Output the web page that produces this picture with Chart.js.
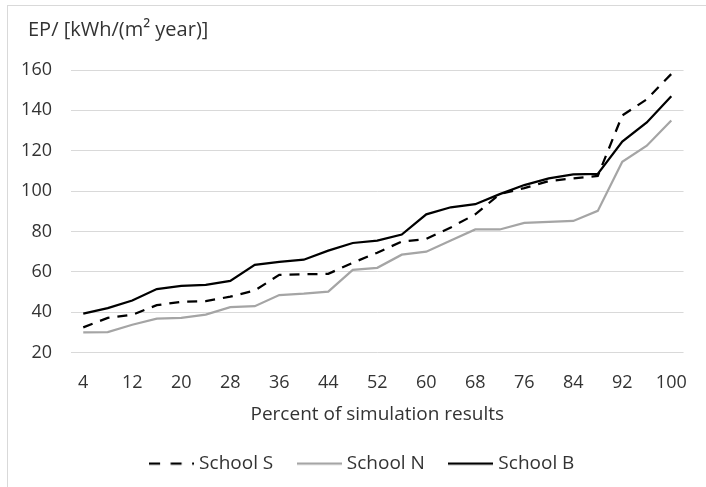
<!DOCTYPE html>
<html>
<head>
<meta charset="utf-8">
<script src="https://cdn.jsdelivr.net/npm/chart.js@4/dist/chart.umd.min.js"></script>
<style>
  html, body { margin: 0; padding: 0; background: #fff; overflow: hidden; }
  #wrap { position: relative; width: 706px; height: 487px; }
  #frame { position: absolute; left: 7px; top: 5px; width: 800px; height: 600px;
           border: 1px solid #d9d9d9; pointer-events: none; }
</style>
</head>
<body>
<div id="wrap">
  <canvas id="chart" width="706" height="487"></canvas>
  <div id="frame"></div>
</div>
<script>
// percent of simulation results (x categories)
const percents = ["4", "8", "12", "16", "20", "24", "28", "32", "36", "40", "44", "48", "52",
  "56", "60", "64", "68", "72", "76", "80", "84", "88", "92", "96", "100"];

// EP values, kWh/(m2 year)
const schoolS = [32.5, 37.2, 38.7, 43.5, 45.2, 45.5, 47.7, 50.8, 58.5, 58.8, 59, 64.5, 69.5,
  75, 76.3, 82, 88.5, 98.5, 101.5, 105, 106.3, 107.5, 137.5, 145.5, 158];
const schoolN = [30, 30.2, 33.8, 36.8, 37.2, 38.8, 42.5, 43, 48.5, 49.2, 50.2, 61, 62,
  68.5, 70, 75.5, 81, 81, 84.3, 84.7, 85.2, 90.2, 114.5, 122.5, 135];
const schoolB = [39.3, 42, 45.8, 51.5, 53, 53.5, 55.5, 63.5, 65, 66, 70.5, 74.3, 75.5,
  78.5, 88.5, 92, 93.5, 98.5, 103, 106.3, 108.3, 108.5, 124.5, 134, 147];

const yMin = 20, yMax = 160, yStep = 20;
const yCaption = "EP/ [kWh/(m² year)]";

const textColor = "#333333";
const tickFont = { family: "'Open Sans'", size: 18 };
const labelFont = { family: "'Open Sans'", size: 19 };

// small line samples for the legend (Excel-like, dash shown in the sample)
function legendSample(color, dash) {
  const c = document.createElement("canvas");
  c.width = 45;
  c.height = 6;
  const g = c.getContext("2d");
  g.strokeStyle = color;
  g.lineWidth = 2.25;
  g.setLineDash(dash);
  g.beginPath();
  g.moveTo(0, 3);
  g.lineTo(45, 3);
  g.stroke();
  return c;
}

// caption above the value axis, left aligned like in Excel
const captionPlugin = {
  id: "caption",
  afterLayout(chart) {
    // y tick labels are clipped to the scale box; let them use the left margin too
    chart.scales.y.left = 0;
  },
  afterDraw(chart) {
    const c = chart.ctx;
    c.save();
    c.font = "20px 'Open Sans'";
    c.fillStyle = textColor;
    c.textBaseline = "middle";
    c.textAlign = "left";
    c.fillText(yCaption, 28, 30);
    c.restore();
  },
};

const ctx = document.getElementById("chart").getContext("2d");

new Chart(ctx, {
  type: "line",
  data: {
    labels: percents,
    datasets: [
      {
        label: "School S",
        data: schoolS,
        borderColor: "#000000",
        backgroundColor: "#000000",
        borderWidth: 2.25,
        borderDash: [10, 8],
        pointRadius: 0,
        order: 3,
        sample: legendSample("#000000", [11, 10.5]),
      },
      {
        label: "School N",
        data: schoolN,
        borderColor: "#a5a5a5",
        backgroundColor: "#a5a5a5",
        borderWidth: 2.25,
        pointRadius: 0,
        order: 2,
        sample: legendSample("#a5a5a5", []),
      },
      {
        label: "School B",
        data: schoolB,
        borderColor: "#000000",
        backgroundColor: "#000000",
        borderWidth: 2.25,
        pointRadius: 0,
        order: 1,
        sample: legendSample("#000000", []),
      },
    ],
  },
  options: {
    responsive: false,
    animation: false,
    layout: { padding: { left: 36, right: 14, top: 70, bottom: 4 } },
    scales: {
      x: {
        offset: true,
        grid: { display: false, drawTicks: false },
        border: { display: false },
        ticks: {
          color: textColor,
          font: tickFont,
          padding: 19,
          autoSkip: false,
          maxRotation: 0,
          callback: function (value, index) {
            return index % 2 === 0 ? this.getLabelForValue(value) : "";
          },
        },
        title: {
          display: true,
          text: "Percent of simulation results",
          color: textColor,
          font: labelFont,
          padding: { top: -9, bottom: 0 },
        },
      },
      y: {
        min: yMin,
        max: yMax,
        grid: { color: "#d9d9d9", lineWidth: 1, drawTicks: false },
        border: { display: false },
        ticks: { stepSize: yStep, color: textColor, font: tickFont, padding: 19 },
        afterFit: (scale) => { scale.width = 35; },
      },
    },
    plugins: {
      legend: {
        position: "bottom",
        labels: {
          color: textColor,
          font: labelFont,
          usePointStyle: true,
          pointStyleWidth: 36,
          padding: 28,
          sort: (a, b) => a.datasetIndex - b.datasetIndex,
          generateLabels: (chart) =>
            Chart.defaults.plugins.legend.labels.generateLabels(chart).map((item) => {
              item.pointStyle = chart.data.datasets[item.datasetIndex].sample;
              return item;
            }),
        },
      },
      tooltip: { enabled: false },
    },
  },
  plugins: [captionPlugin],
});
</script>
</body>
</html>
